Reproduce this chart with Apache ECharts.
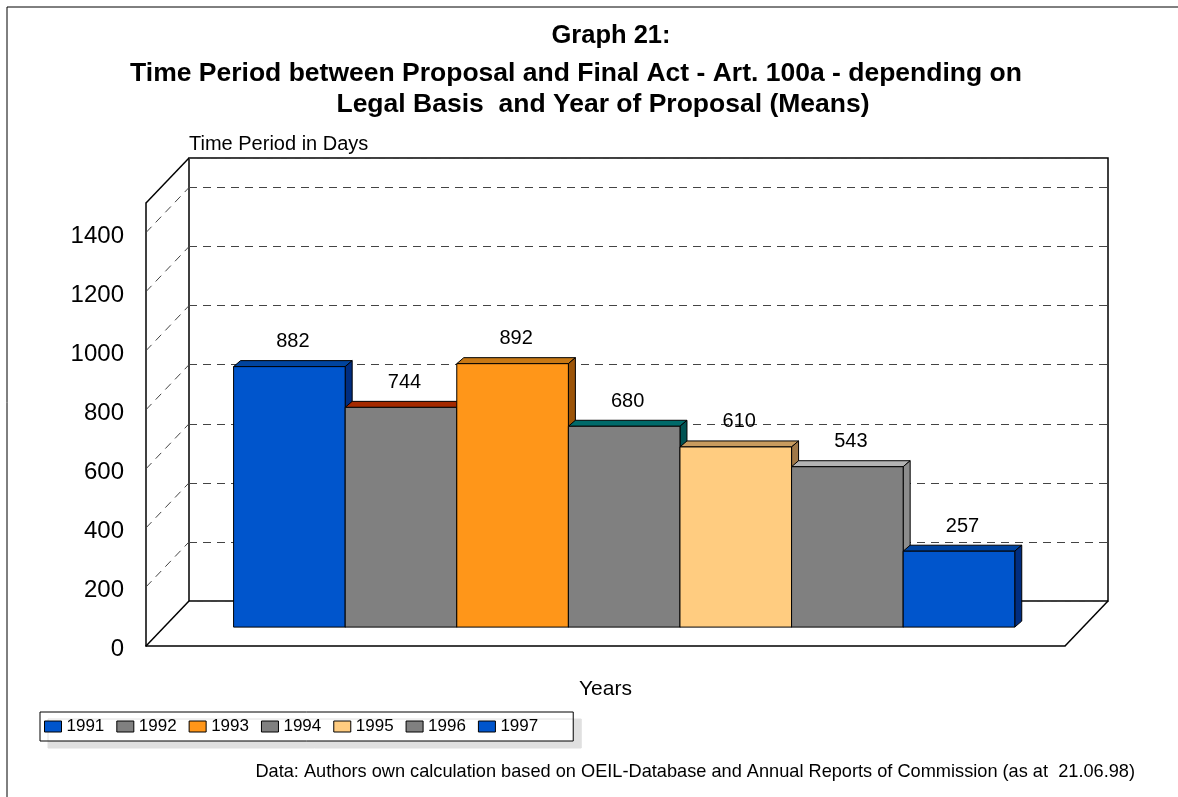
<!DOCTYPE html>
<html><head><meta charset="utf-8">
<script src="https://cdn.jsdelivr.net/npm/echarts@6/dist/echarts.min.js"></script>
<style>html,body{margin:0;padding:0;background:#fff}#c{width:1178px;height:797px}</style>
</head><body><div id="c"></div>
<script>
// ---- data ----
const years = ['1991', '1992', '1993', '1994', '1995', '1996', '1997'];
const values = [882, 744, 892, 680, 610, 543, 257];
const yTicks = [0, 200, 400, 600, 800, 1000, 1200, 1400];
const yMax = 1500;

// ---- styles ----
const frontColors = ['#0055CC', '#808080', '#FF9619', '#808080', '#FFCC80', '#808080', '#0055CC'];
const topColors   = ['#00449E', '#A52A00', '#C87814', '#006A6A', '#C89B5E', '#B4B4B4', '#0044A0'];
const sideColors  = ['#002D80', '#6E6E6E', '#9C5408', '#005252', '#A07848', '#8C8C8C', '#002D80'];
const FONT = 'Liberation Sans, Arial, Helvetica, sans-serif';

// ---- layout ----
const FL = 146, FT = 203, FW = 919, FH = 443; // front plane
const DX = 43, DY = 45;                        // wall depth
const BF = 0.42;                               // bar plane depth fraction
const BDX = 7, BDY = 6;                        // bar thickness
const XMIN = -0.623, XMAX = 7.612;             // bar axis extent (bar widths)

const chart = echarts.init(document.getElementById('c'), null, {renderer: 'canvas'});

function renderFrame(params, api) {
  const ch = [];
  yTicks.concat([yMax]).forEach(function (t) {
    const p = api.coord([0, t]);
    const solid = (t === 0 || t === yMax);
    ch.push({type: 'line', shape: {x1: p[0], y1: p[1], x2: p[0] + DX, y2: p[1] - DY},
      style: {stroke: solid ? '#000' : '#444', lineWidth: solid ? 1.5 : 1, lineDash: solid ? null : [8, 6]}});
  });
  const r = api.coord([1, 0]);
  ch.push({type: 'line', shape: {x1: r[0], y1: r[1], x2: r[0] + DX, y2: r[1] - DY},
    style: {stroke: '#000', lineWidth: 1.5}});
  return {type: 'group', children: ch};
}

function renderBar(params, api) {
  const i = api.value(0), v = api.value(1);
  const k = params.seriesIndex - 1;
  const p0 = api.coord([i, 0]), p1 = api.coord([i + 1, v]);
  const x0 = p0[0], x1 = p1[0], yb = p0[1], yt = p1[1];
  const st = {stroke: '#000', lineWidth: 1, lineJoin: 'miter'};
  return {type: 'group', children: [
    {type: 'polygon', shape: {points: [[x0, yt], [x0 + BDX, yt - BDY], [x1 + BDX, yt - BDY], [x1, yt]]},
      style: Object.assign({fill: topColors[k]}, st)},
    {type: 'polygon', shape: {points: [[x1, yt], [x1 + BDX, yt - BDY], [x1 + BDX, yb - BDY], [x1, yb]]},
      style: Object.assign({fill: sideColors[k]}, st)},
    {type: 'rect', shape: {x: x0, y: yt, width: x1 - x0, height: yb - yt},
      style: Object.assign({fill: frontColors[k]}, st)},
    {type: 'text', z2: 10, style: {text: String(v), x: (x0 + x1) / 2 + BDX / 2, y: yt - BDY - 9,
      align: 'center', verticalAlign: 'bottom', fontSize: 20, fontFamily: FONT, fill: '#000'}}
  ]};
}

const barSeries = years.map(function (y, k) {
  return {
    type: 'custom', name: y, xAxisIndex: 2, yAxisIndex: 2, z: 5,
    itemStyle: {color: frontColors[k]},
    encode: {x: 0, y: 1},
    data: [[k, values[k]]],
    renderItem: renderBar
  };
});

const hiddenX = {type: 'value', min: 0, max: 1, show: false};
const titleStyle = {fontWeight: 'bold', color: '#000', fontFamily: FONT};

chart.setOption({
  animation: false,
  backgroundColor: '#fff',
  title: [
    {text: 'Graph 21:', left: 606, top: 18, textAlign: 'center',
      textStyle: Object.assign({fontSize: 25.5}, titleStyle)},
    {text: 'Time Period between Proposal and Final Act - Art. 100a - depending on',
      left: 571, top: 55, textAlign: 'center',
      textStyle: Object.assign({fontSize: 26.5}, titleStyle)},
    {text: 'Legal Basis  and Year of Proposal (Means)',
      left: 598, top: 86, textAlign: 'center',
      textStyle: Object.assign({fontSize: 26.5}, titleStyle)},
    {text: 'Data: Authors own calculation based on OEIL-Database and Annual Reports of Commission (as at  21.06.98)',
      right: 38, top: 758,
      textStyle: {fontSize: 18.2, fontWeight: 'normal', color: '#000', fontFamily: FONT}}
  ],
  graphic: [
    {type: 'rect', shape: {x: 7, y: 7, width: 1190, height: 820}, style: {fill: 'none', stroke: '#000', lineWidth: 1}, silent: true}
  ],
  legend: {
    data: years, left: 40, top: 712, orient: 'horizontal', selectedMode: false,
    itemWidth: 17, itemHeight: 11, itemGap: 12, icon: 'rect',
    padding: [6, 35, 6, 4],
    backgroundColor: '#fff', borderColor: '#000', borderWidth: 1,
    shadowColor: '#e0e0e0', shadowBlur: 0, shadowOffsetX: 8, shadowOffsetY: 7,
    itemStyle: {borderColor: '#000', borderWidth: 1},
    textStyle: {fontSize: 17, color: '#000', fontFamily: FONT}
  },
  grid: [
    {left: FL, top: FT, width: FW, height: FH},
    {left: FL + DX, top: FT - DY, width: FW, height: FH, show: true, borderColor: '#000', borderWidth: 1.5, backgroundColor: 'transparent'},
    {left: FL + BF * DX, top: FT - BF * DY, width: FW, height: FH}
  ],
  xAxis: [
    {type: 'value', gridIndex: 0, min: 0, max: 1, name: 'Years', nameLocation: 'middle', nameGap: 33,
      nameTextStyle: {fontSize: 21, color: '#000', fontFamily: FONT},
      axisLine: {show: true, lineStyle: {color: '#000', width: 1.5}},
      axisTick: {show: false}, axisLabel: {show: false}, splitLine: {show: false}},
    Object.assign({gridIndex: 1}, hiddenX),
    {type: 'value', gridIndex: 2, min: XMIN, max: XMAX, show: false}
  ],
  yAxis: [
    {type: 'value', gridIndex: 0, min: 0, max: yMax, interval: 200,
      axisLine: {show: true, lineStyle: {color: '#000', width: 1.5}},
      axisTick: {show: false}, splitLine: {show: false},
      axisLabel: {fontSize: 24, color: '#000', fontFamily: FONT, margin: 22, showMaxLabel: false,
        verticalAlign: 'top', lineHeight: 7,
        formatter: function (v) { return yTicks.indexOf(v) >= 0 ? String(v) : ''; }}},
    {type: 'value', gridIndex: 1, min: 0, max: yMax, interval: 200,
      name: 'Time Period in Days', nameLocation: 'end', nameGap: 4,
      nameTextStyle: {fontSize: 20, color: '#000', fontFamily: FONT, align: 'left', verticalAlign: 'bottom'},
      axisLine: {show: false}, axisTick: {show: false}, axisLabel: {show: false},
      splitLine: {show: true, lineStyle: {color: '#444', width: 1, type: [8, 6]}}},
    {type: 'value', gridIndex: 2, min: 0, max: yMax, show: false}
  ],
  series: [
    {type: 'custom', name: 'frame', xAxisIndex: 0, yAxisIndex: 0, z: 3, silent: true,
      encode: {x: 0, y: 1}, data: [[0, 0]], renderItem: renderFrame}
  ].concat(barSeries)
});
</script>
</body></html>
